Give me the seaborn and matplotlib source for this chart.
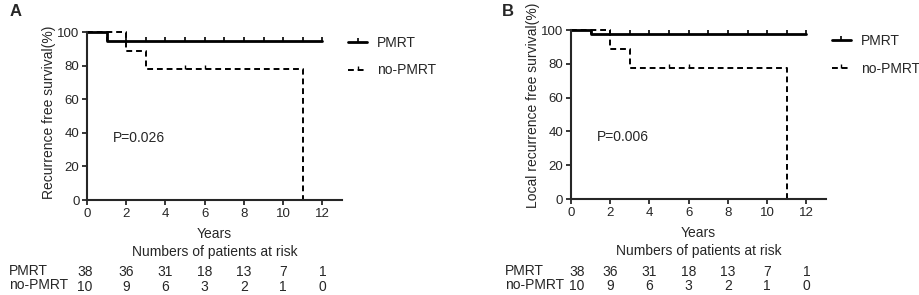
import numpy as np
import pandas as pd
import matplotlib.pyplot as plt
import seaborn as sns
from matplotlib.lines import Line2D
from matplotlib.transforms import blended_transform_factory

# --- data ---
groups = ['PMRT', 'no-PMRT']

# panel A: recurrence free survival
a_pmrt_t = [0, 1, 12]
a_pmrt_s = [100, 94.7, 94.7]
a_pmrt_cens_t = [1, 2, 3, 4, 5, 6, 7, 8, 9, 10, 11, 12]
a_nopmrt_t = [0, 2, 3, 11]
a_nopmrt_s = [100, 88.9, 77.8, 0]
a_nopmrt_cens_t = [5, 6]

# panel B: local recurrence free survival
b_pmrt_t = [0, 1, 12]
b_pmrt_s = [100, 97.4, 97.4]
b_pmrt_cens_t = [1, 2, 3, 4, 5, 6, 7, 8, 9, 10, 11, 12]
b_nopmrt_t = [0, 2, 3, 11]
b_nopmrt_s = [100, 88.9, 77.8, 0]
b_nopmrt_cens_t = [5, 6]

risk_times = [0, 2, 4, 6, 8, 10, 12]
risk_pmrt = [38, 36, 31, 18, 13, 7, 1]
risk_nopmrt = [10, 9, 6, 3, 2, 1, 0]

sns.set_style('ticks')
plt.rcParams['font.family'] = ['Liberation Sans', 'DejaVu Sans']
plt.rcParams['font.size'] = 10

FS = 10


def step_value(ts, ss, x):
    idx = np.searchsorted(ts, x, side='right') - 1
    return ss[idx]


def draw_panel(ax, p_t, p_s, p_c, n_t, n_s, n_c, ylabel, ylab_y, ptext, first_shift):
    df = pd.concat([
        pd.DataFrame({'Years': p_t, 'Surv': p_s, 'Group': 'PMRT'}),
        pd.DataFrame({'Years': n_t, 'Surv': n_s, 'Group': 'no-PMRT'}),
    ])
    sns.lineplot(data=df, x='Years', y='Surv', hue='Group', style='Group',
                 palette={'PMRT': 'black', 'no-PMRT': 'black'},
                 dashes={'PMRT': '', 'no-PMRT': (3, 2)},
                 size='Group', sizes={'PMRT': 2.0, 'no-PMRT': 1.4},
                 drawstyle='steps-post', estimator=None, legend=False,
                 ax=ax, clip_on=False)
    # censor marks
    ax.plot(p_c, [step_value(p_t, p_s, c) for c in p_c], linestyle='none',
            marker=2, markersize=3, mew=1.2, color='black', clip_on=False)
    ax.plot(n_c, [step_value(n_t, n_s, c) for c in n_c], linestyle='none',
            marker=2, markersize=3, mew=1.0, color='black', clip_on=False)

    ax.set_xlim(0, 13)
    ax.set_ylim(0, 100)
    ax.set_xticks(range(0, 13, 2))
    ax.set_yticks(range(0, 101, 20))
    ax.tick_params(width=1.3, length=3.5, pad=2, labelsize=9.5)
    for s in ['left', 'bottom']:
        ax.spines[s].set_linewidth(1.5)
    sns.despine(ax=ax)
    ax.set_xlabel('Years', fontsize=FS, labelpad=5)
    ax.set_ylabel(ylabel, fontsize=FS)
    ax.yaxis.set_label_coords(-31 / 255, ylab_y)
    ax.text(1.3, 37, ptext, fontsize=FS, va='center', ha='left')

    handles = [Line2D([0], [0], color='black', lw=2.0, marker=2, markersize=3, mew=1.2),
               Line2D([0], [0], color='black', lw=1.4, ls=(0, (3, 2)), marker=2,
                      markersize=3, mew=1.0)]
    ax.legend(handles, groups, loc='upper left', bbox_to_anchor=(1.024, 0.975),
              frameon=False, fontsize=FS, handlelength=1.35, handletextpad=0.7,
              labelspacing=0.95, numpoints=1, borderpad=0, borderaxespad=0)

    trans = blended_transform_factory(ax.transData, ax.transAxes)
    ax.text(0.5, -0.31, 'Numbers of patients at risk', transform=ax.transAxes,
            ha='center', va='center', fontsize=FS)
    for i, (t, a, b) in enumerate(zip(risk_times, risk_pmrt, risk_nopmrt)):
        x = t + (first_shift if i == 0 else 0)
        ax.text(x, -0.43, str(a), transform=trans, ha='center', va='center', fontsize=FS)
        ax.text(x, -0.515, str(b), transform=trans, ha='center', va='center', fontsize=FS)


fig = plt.figure(figsize=(9.19, 2.95), dpi=100)
ax1 = fig.add_axes([0.0947, 0.322, 0.2775, 0.5695])
ax2 = fig.add_axes([0.6213, 0.3254, 0.2775, 0.5726])

draw_panel(ax1, a_pmrt_t, a_pmrt_s, a_pmrt_cens_t, a_nopmrt_t, a_nopmrt_s,
           a_nopmrt_cens_t, 'Recurrence free survival(%)', 0.52, 'P=0.026', -0.1)
draw_panel(ax2, b_pmrt_t, b_pmrt_s, b_pmrt_cens_t, b_nopmrt_t, b_nopmrt_s,
           b_nopmrt_cens_t, 'Local recurrence free survival(%)', 0.555, 'P=0.006', 0.3)

# row labels of the risk tables
for x0 in [9 / 919, 505 / 919]:
    fig.text(x0, 1 - 271 / 295, 'PMRT', ha='left', va='center', fontsize=FS)
    fig.text(x0, 1 - 285 / 295, 'no-PMRT', ha='left', va='center', fontsize=FS)

fig.text(10 / 919, 1 - 12 / 295, 'A', fontsize=12, fontweight='bold', va='center')
fig.text(502 / 919, 1 - 12 / 295, 'B', fontsize=12, fontweight='bold', va='center')

fig.savefig('out.png', dpi=100)
